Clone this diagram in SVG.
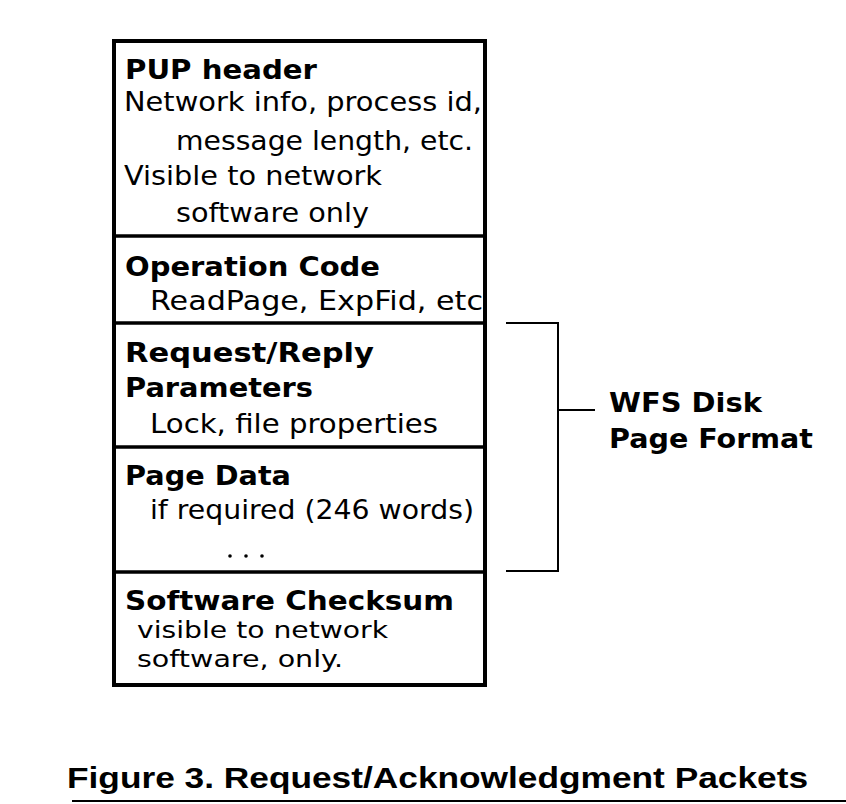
<svg xmlns="http://www.w3.org/2000/svg" width="846" height="804" viewBox="0 0 846 804">
<style>
.r{font-family:"DejaVu Sans","Liberation Sans",sans-serif;font-size:27px;fill:#000}
.s{font-family:"DejaVu Sans","Liberation Sans",sans-serif;font-size:23px;fill:#000}
.b{font-family:"DejaVu Sans","Liberation Sans",sans-serif;font-size:27px;font-weight:bold;fill:#000}
.cap{font-family:"Liberation Sans",Arial,sans-serif;font-size:29px;font-weight:bold;fill:#000}
.box{fill:none;stroke:#000;stroke-width:4}
.div{stroke:#000;stroke-width:3.5}
.br{fill:none;stroke:#000;stroke-width:2}
</style>
<rect width="846" height="804" fill="#fff"/>
<g id="packet">
<rect class="box" x="114" y="41" width="371" height="644"/>
</g>
<g id="pup-header">
<text class="b" x="125" y="79" textLength="192" lengthAdjust="spacingAndGlyphs">PUP header</text>
<text class="r" x="124" y="111" textLength="358" lengthAdjust="spacingAndGlyphs">Network info, process id,</text>
<text class="r" x="176" y="150" textLength="297" lengthAdjust="spacingAndGlyphs">message length, etc.</text>
<text class="r" x="124" y="185" textLength="258" lengthAdjust="spacingAndGlyphs">Visible to network</text>
<text class="r" x="176" y="222" textLength="193" lengthAdjust="spacingAndGlyphs">software only</text>
</g>
<g id="operation-code">
<line class="div" x1="114" y1="236" x2="485" y2="236"/>
<text class="b" x="125" y="276" textLength="255" lengthAdjust="spacingAndGlyphs">Operation Code</text>
<text class="r" x="150" y="310" textLength="333" lengthAdjust="spacingAndGlyphs">ReadPage, ExpFid, etc</text>
</g>
<g id="parameters">
<line class="div" x1="114" y1="323" x2="485" y2="323"/>
<text class="b" x="125" y="362" textLength="249" lengthAdjust="spacingAndGlyphs">Request/Reply</text>
<text class="b" x="125" y="397" textLength="188" lengthAdjust="spacingAndGlyphs">Parameters</text>
<text class="r" x="150" y="433" textLength="288" lengthAdjust="spacingAndGlyphs">Lock, file properties</text>
</g>
<g id="page-data">
<line class="div" x1="114" y1="447" x2="485" y2="447"/>
<text class="b" x="125" y="485" textLength="166" lengthAdjust="spacingAndGlyphs">Page Data</text>
<text class="r" x="150" y="519" textLength="324" lengthAdjust="spacingAndGlyphs">if required (246 words)</text>
<circle cx="230" cy="556" r="1.8"/>
<circle cx="246" cy="556" r="1.8"/>
<circle cx="262" cy="556" r="1.8"/>
</g>
<g id="checksum">
<line class="div" x1="114" y1="572" x2="485" y2="572"/>
<text class="b" x="125" y="610" textLength="329" lengthAdjust="spacingAndGlyphs">Software Checksum</text>
<text class="s" x="137" y="638" textLength="251" lengthAdjust="spacingAndGlyphs">visible to network</text>
<text class="s" x="137" y="667" textLength="206" lengthAdjust="spacingAndGlyphs">software, only.</text>
</g>
<g id="connectors">
<polyline class="br" points="506,323 558,323 558,571 506,571"/>
<line class="br" x1="558" y1="410" x2="595" y2="410"/>
</g>
<g id="wfs-label">
<text class="b" x="609" y="412" textLength="153" lengthAdjust="spacingAndGlyphs">WFS Disk</text>
<text class="b" x="609" y="448" textLength="204" lengthAdjust="spacingAndGlyphs">Page Format</text>
</g>
<g id="caption">
<text class="cap" x="67" y="788" textLength="741" lengthAdjust="spacingAndGlyphs">Figure 3. Request/Acknowledgment Packets</text>
<line x1="72" y1="801" x2="846" y2="801" stroke="#000" stroke-width="2"/>
</g>
</svg>
